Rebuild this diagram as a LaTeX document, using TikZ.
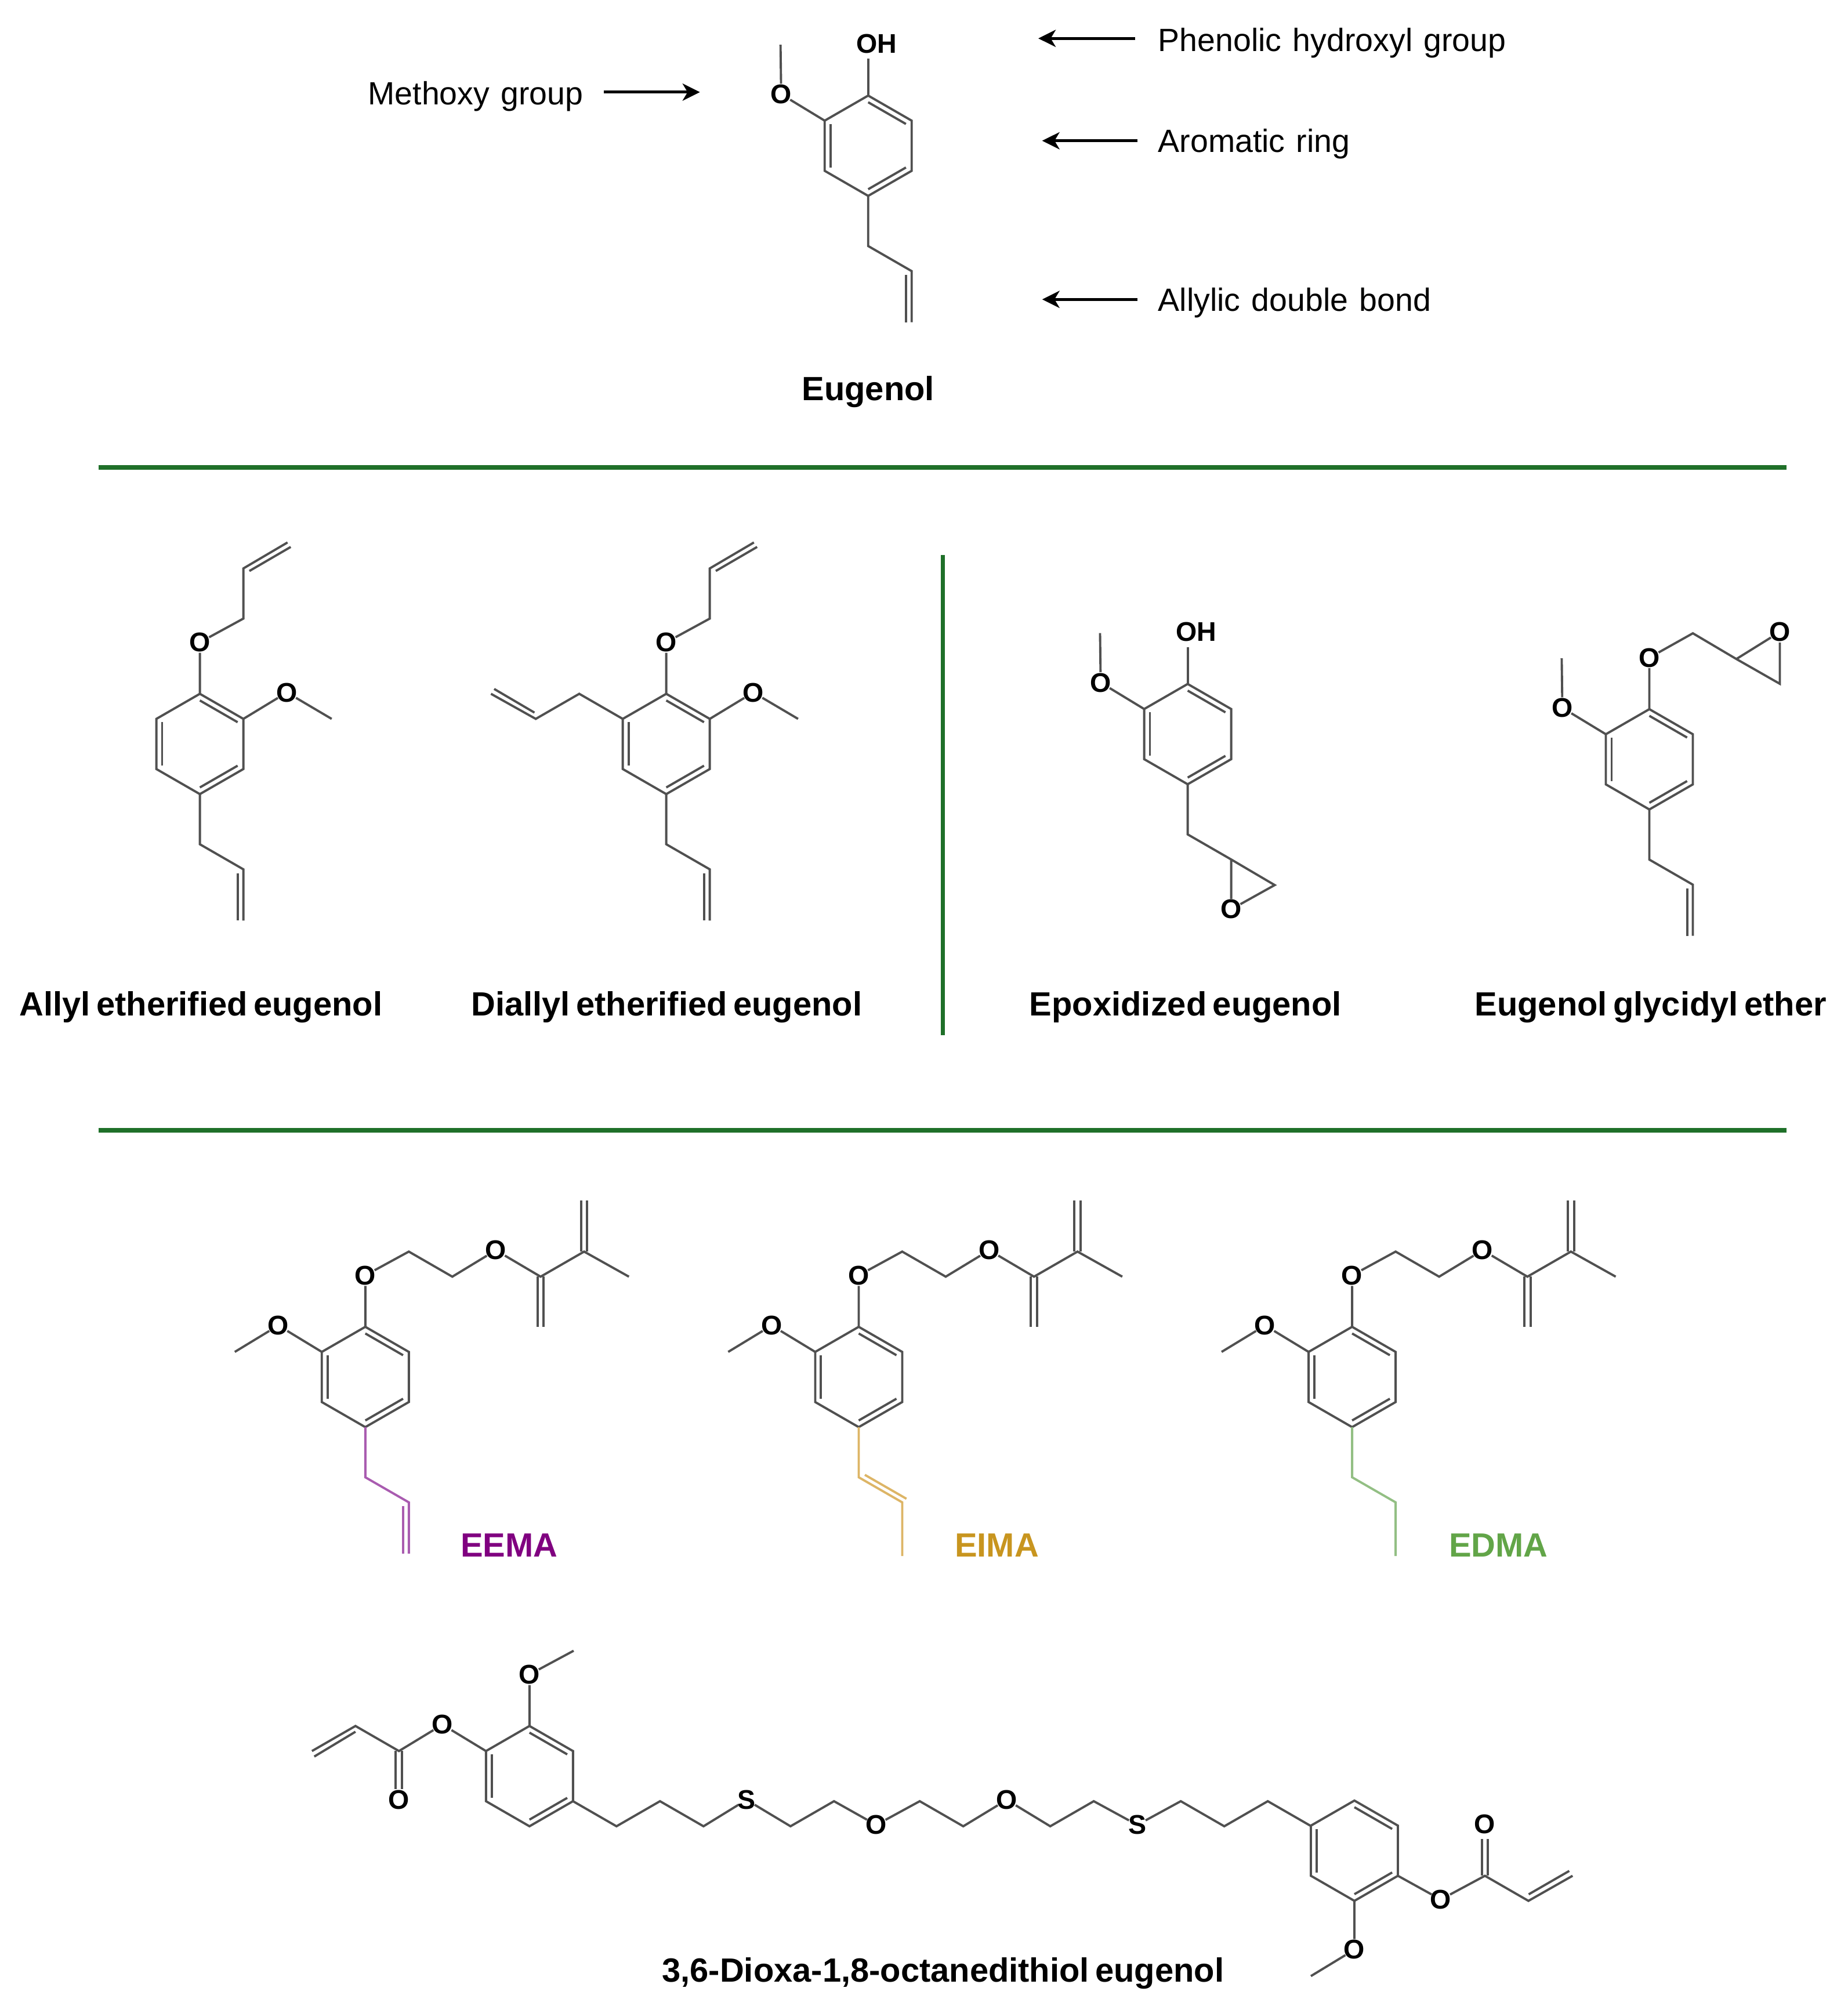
\documentclass[tikz,border=0pt]{standalone}
\usepackage{fontspec}
\setmainfont[WordSpace=1.25, BoldFeatures={WordSpace=0.65}]{Liberation Sans}
\usetikzlibrary{calc,arrows.meta}
\definecolor{bondgray}{HTML}{505050}
\definecolor{linegreen}{HTML}{1F7029}
\definecolor{eemadark}{HTML}{800080}
\definecolor{eemalight}{HTML}{A95CB0}
\definecolor{eimadark}{HTML}{C8951F}
\definecolor{eimalight}{HTML}{DDB566}
\definecolor{edmadark}{HTML}{62A548}
\definecolor{edmalight}{HTML}{93BF84}
\tikzset{
	bond/.style={line width=0.5pt, color=bondgray, line join=miter},
	atom/.style={circle, inner sep=0pt, outer sep=-0.8pt, yshift=0.3pt, font=\fontsize{6}{6}\bfseries\selectfont},
	hydroxyl/.style={inner sep=0pt, font=\fontsize{6}{6}\bfseries\selectfont},
	remark/.style={anchor=base west, inner sep=0pt, font=\fontsize{7.15}{8}\selectfont},
	molname/.style={anchor=base, inner sep=0pt, font=\fontsize{7.46}{8}\bfseries\selectfont},
	sepline/.style={line width=0.95pt, color=linegreen},
	pointer/.style={line width=0.65pt, -{Stealth[length=0.136cm, width=0.136cm, inset=0.04cm]}}
}
\def\arring(#1){\begin{scope}[shift={(#1)}]
	\draw[bond] (0,-39.2) -- (34,-19.6) -- (34,19.6) -- (0,39.2) -- (-34,19.6) -- (-34,-19.6) -- cycle;
	\draw[bond] (0,-34) -- (29.5,-17);
	\draw[bond] (29.5,17) -- (0,34);
	\draw[bond] (-29.5,17) -- (-29.5,-17);
\end{scope}}
\def\allyltail[#1](#2){\begin{scope}[shift={(#2)}]
	\draw[bond, #1] (0,39.2) -- (0,78.4) -- (34,98) -- (34,138);
	\draw[bond, #1] (29.5,101) -- (29.5,138);
\end{scope}}
\def\ethermonomer(#1){\begin{scope}[shift={(#1)}]
	\node[atom] (ring o) at (0,-78.4) {O};
	\node[atom] (ester o) at (102,-98) {O};
	\node[atom] (meth o) at (-68,-39.2) {O};
	\draw[bond] (0,-39.2) -- (ring o) -- (34,-98) -- (68,-78.4) -- (ester o) -- (137,-78.4) -- (171,-98) -- (206,-78.4);
	\draw[bond] (134.6,-78.4) -- (134.6,-39.2);
	\draw[bond] (139.4,-78.4) -- (139.4,-39.2);
	\draw[bond] (168.6,-98) -- (168.6,-138);
	\draw[bond] (173.4,-98) -- (173.4,-138);
	\draw[bond] (-34,-19.6) -- (meth o) -- (-102,-19.6);
\end{scope}}

\begin{document}
\begin{tikzpicture}[x=0.01cm, y=-0.01cm]
		%%%%% START %%%%%
		
		\useasboundingbox (0, 0) rectangle (1444, 1568);
		
		\draw[sepline] (77, 365.4) -- (1396, 365.4);
		\draw[sepline] (77, 883.5) -- (1396, 883.5);
		\draw[sepline] (736.8, 434) -- (736.8, 809);
		
		\arring(678.5, 113.9);
		\allyltail[](678.5, 113.9);
		\begin{scope}[shift={(678.5, 113.9)}]
			\node[atom] (eug o) at (-68, -39.2) {O};
			\node[hydroxyl] (eug oh) at (6.5, -79.8) {OH};
			\draw[bond] (-34, -19.6) -- (eug o) -- (-68.5, -79);
			\draw[bond] (0, -39.2) -- (0, -68);
		\end{scope}
		
		\node[molname] (eugenol) at (678.5, 313) {Eugenol};
		
		\node[remark] (methoxy) at (287, 82) {Methoxy group};
		\node[remark] (phenolic) at (904.5, 40) {Phenolic hydroxyl group};
		\node[remark] (aromatic) at (904.5, 119) {Aromatic ring};
		\node[remark] (allylic) at (904.5, 243) {Allylic double bond};
		\coordinate (methoxy tip) at (547, 72);
		\coordinate (phenolic tip) at (811.5, 30);
		\coordinate (aromatic tip) at (814.5, 110);
		\coordinate (allylic tip) at (814.5, 234);
		\draw[pointer] (472, 72) -- (methoxy tip);
		\draw[pointer] (887, 30) -- (phenolic tip);
		\draw[pointer] (889, 110) -- (aromatic tip);
		\draw[pointer] (889, 234) -- (allylic tip);
		
		\arring(156.2, 581.5);
		\allyltail[](156.2, 581.5);
		\begin{scope}[shift={(156.2, 581.5)}]
			\node[atom] (aee o) at (0, -78.4) {O};
			\node[atom] (aee m) at (68, -39.2) {O};
			\draw[bond] (0, -39.2) -- (aee o) -- (34, -98) -- (34, -137.2) -- (68.5, -157.5);
			\draw[bond] (38.7, -135.2) -- (71, -154);
			\draw[bond] (34, -19.6) -- (aee m) -- (103, -19.6);
		\end{scope}
		\node[molname] (aee) at (157, 794) {Allyl etherified eugenol};
		
		\arring(520.7, 581.5);
		\allyltail[](520.7, 581.5);
		\begin{scope}[shift={(520.7, 581.5)}]
			\node[atom] (dee o) at (0, -78.4) {O};
			\node[atom] (dee m) at (68, -39.2) {O};
			\draw[bond] (0, -39.2) -- (dee o) -- (34, -98) -- (34, -137.2) -- (68.5, -157.5);
			\draw[bond] (38.7, -135.2) -- (71, -154);
			\draw[bond] (34, -19.6) -- (dee m) -- (103, -19.6);
			\draw[bond] (-34, -19.6) -- (-68, -39.2) -- (-102, -19.6) -- (-137, -39.2);
			\draw[bond] (-103, -24.5) -- (-134.5, -43);
		\end{scope}
		\node[molname] (dee) at (521, 794) {Diallyl etherified eugenol};
		
		\arring(928.2, 573.8);
		\begin{scope}[shift={(928.2, 573.8)}]
			\node[atom] (epo m) at (-68, -39.2) {O};
			\node[hydroxyl] (epo oh) at (6.5, -79.8) {OH};
			\node[atom] (epo o) at (34, 138) {O};
			\draw[bond] (-34, -19.6) -- (epo m) -- (-68.5, -79);
			\draw[bond] (0, -39.2) -- (0, -68);
			\draw[bond] (0, 39.2) -- (0, 78.4) -- (34, 98) -- (68, 118) -- (epo o) -- (34, 98);
		\end{scope}
		\node[molname] (epo) at (926.5, 794) {Epoxidized eugenol};
		
		\arring(1289, 593.5);
		\allyltail[](1289, 593.5);
		\begin{scope}[shift={(1289, 593.5)}]
			\node[atom] (gly o) at (0, -78.4) {O};
			\node[atom] (gly m) at (-68, -39.2) {O};
			\node[atom] (gly e) at (102, -98.5) {O};
			\draw[bond] (0, -39.2) -- (gly o) -- (34, -98.5) -- (68, -78.4) -- (gly e) -- (102, -59) -- (68, -78.4);
			\draw[bond] (-34, -19.6) -- (gly m) -- (-68.5, -79);
		\end{scope}
		\node[molname] (gly) at (1290, 794) {Eugenol glycidyl ether};
		
		\arring(285.5, 1076.3);
		\ethermonomer(285.5, 1076.3);
		\allyltail[color=eemalight](285.5, 1076.3);
		\node[molname, color=eemadark] (eema) at (398, 1217) {EEMA};
		
		\arring(671.1, 1076.3);
		\ethermonomer(671.1, 1076.3);
		\begin{scope}[shift={(671.1, 1076.3)}]
			\draw[bond, color=eimalight] (0, 39.2) -- (0, 78.4) -- (34, 98) -- (34, 140);
			\draw[bond, color=eimalight] (4.8, 76.5) -- (37.3, 95.2);
		\end{scope}
		\node[molname, color=eimadark] (eima) at (779, 1217) {EIMA};
		
		\arring(1056.7, 1076.3);
		\ethermonomer(1056.7, 1076.3);
		\begin{scope}[shift={(1056.7, 1076.3)}]
			\draw[bond, color=edmalight] (0, 39.2) -- (0, 78.4) -- (34, 98) -- (34, 140);
		\end{scope}
		\node[molname, color=edmadark] (edma) at (1171, 1217) {EDMA};
		
		\arring(413.8, 1388.3);
		\begin{scope}[shift={(413.8, 1388.3)}]
			\node[atom] (left a) at (-68, -39.2) {O};
			\node[atom] (left b) at (-102, 19.6) {O};
			\node[atom] (left c) at (0, -78.4) {O};
			\node[atom] (left s) at (169.6, 19.6) {S};
			\node[atom] (mid a) at (271, 39.2) {O};
			\node[atom] (mid b) at (373, 19.6) {O};
			\node[atom] (right s) at (475, 39.2) {S};
			\draw[bond] (-34, -19.6) -- (left a) -- (-102, -19.6) -- (-136, -39.2) -- (-170, -19.6);
			\draw[bond] (-136, -34.7) -- (-168.2, -15.3);
			\draw[bond] (-104.5, -19.6) -- (-104.5, 10);
			\draw[bond] (-99.7, -19.6) -- (-99.7, 10);
			\draw[bond] (0, -39.2) -- (left c) -- (34.5, -98);
			\draw[bond] (34, 19.6) -- (68, 39.2) -- (102, 19.6) -- (136, 39.2) -- (left s) -- (204, 39.2) -- (238, 19.6) -- (mid a) -- (305, 19.6) -- (339, 39.2) -- (mid b) -- (407, 39.2) -- (441, 19.6) -- (right s) -- (509, 19.6) -- (543, 39.2) -- (577, 19.6) -- (610.7, 39);
		\end{scope}
		
		\arring(1058.5, 1446.6);
		\begin{scope}[shift={(1058.5, 1446.6)}]
			\node[atom] (far a) at (67.5, 39.2) {O};
			\node[atom] (far b) at (102, -19.6) {O};
			\node[atom] (far c) at (0, 78.4) {O};
			\draw[bond] (34, 19.6) -- (far a) -- (102, 19.6) -- (136, 39.2) -- (170.5, 19.6);
			\draw[bond] (136.2, 34.1) -- (167.9, 15.8);
			\draw[bond] (99.6, 19.6) -- (99.6, -9.4);
			\draw[bond] (104.4, 19.6) -- (104.4, -9.4);
			\draw[bond] (0, 39.2) -- (far c) -- (-34, 98);
		\end{scope}
		\node[molname] (dithiol) at (737, 1549) {3,6-Dioxa-1,8-octanedithiol eugenol};
		
		%%%%% END %%%%%
	\end{tikzpicture}
\end{document}
